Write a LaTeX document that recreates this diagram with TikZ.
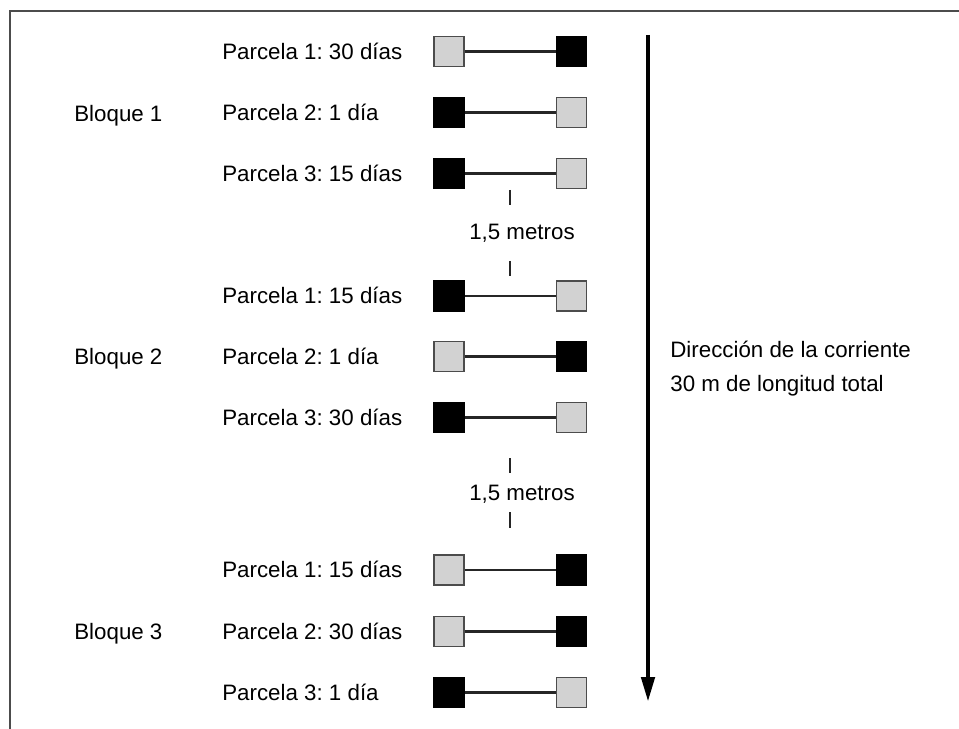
\documentclass[tikz,border=0pt]{standalone}
\usepackage{fontspec}
\setmainfont{Liberation Sans}
\usetikzlibrary{arrows.meta}
\frenchspacing

\tikzset{
  lbl/.style={anchor=west, inner sep=0pt, text height=9pt, text depth=0pt, font=\fontsize{12.7}{15}\selectfont},
  light/.style={draw=gray!60!black, fill=gray!35, line width=0.7pt, minimum size=0.6cm, inner sep=0pt},
  dark/.style={draw=black, fill=black, line width=0.7pt, minimum size=0.6cm, inner sep=0pt}
}

\begin{document}
\begin{tikzpicture}[x=0.02cm, y=-0.02cm]
   \useasboundingbox (0,0) rectangle (959,729);
   % frame
   \draw[gray!60!black, line width=1.2pt] (959,11) -- (10,11) -- (10,729);

   \begin{scope}[every node/.style={lbl}]
    \node (bq1) at (74,114) {Bloque 1};
    \node (bq2) at (74,356.5) {Bloque 2};
    \node (bq3) at (74,631.5) {Bloque 3};
    \node (b1p1) at (222,51.5) {Parcela 1: 30 días};
    \node (b1p2) at (222,112.5) {Parcela 2: 1 día};
    \node (b1p3) at (222,173.5) {Parcela 3: 15 días};
    \node (b2p1) at (222,296) {Parcela 1: 15 días};
    \node (b2p2) at (222,356.5) {Parcela 2: 1 día};
    \node (b2p3) at (222,417.5) {Parcela 3: 30 días};
    \node (b3p1) at (222,570) {Parcela 1: 15 días};
    \node (b3p2) at (222,631.5) {Parcela 2: 30 días};
    \node (b3p3) at (222,692.5) {Parcela 3: 1 día};
    \node (dir1) at (670,350) {Dirección de la corriente};
    \node (dir2) at (670,383.5) {30 m de longitud total};
    \node[anchor=center] (m1) at (522,232) {1,5 metros};
    \node[anchor=center] (m2) at (522,493) {1,5 metros};
   \end{scope}

   \node[light] (b1p1a) at (449,51.5) {};
   \node[dark]  (b1p1b) at (571.5,51.5) {};
   \node[dark]  (b1p2a) at (449,112.5) {};
   \node[light] (b1p2b) at (571.5,112.5) {};
   \node[dark]  (b1p3a) at (449,173.5) {};
   \node[light] (b1p3b) at (571.5,173.5) {};
   \node[dark]  (b2p1a) at (449,296) {};
   \node[light] (b2p1b) at (571.5,296) {};
   \node[light] (b2p2a) at (449,356.5) {};
   \node[dark]  (b2p2b) at (571.5,356.5) {};
   \node[dark]  (b2p3a) at (449,417.5) {};
   \node[light] (b2p3b) at (571.5,417.5) {};
   \node[light] (b3p1a) at (449,570) {};
   \node[dark]  (b3p1b) at (571.5,570) {};
   \node[light] (b3p2a) at (449,631.5) {};
   \node[dark]  (b3p2b) at (571.5,631.5) {};
   \node[dark]  (b3p3a) at (449,692.5) {};
   \node[light] (b3p3b) at (571.5,692.5) {};

   \begin{scope}[line width=1.3pt, black!85]
    \draw (b1p1a) -- (b1p1b);
    \draw (b1p2a) -- (b1p2b);
    \draw (b1p3a) -- (b1p3b);
    \draw (b2p1a) -- (b2p1b);
    \draw (b2p2a) -- (b2p2b);
    \draw (b2p3a) -- (b2p3b);
    \draw (b3p1a) -- (b3p1b);
    \draw (b3p2a) -- (b3p2b);
    \draw (b3p3a) -- (b3p3b);
   \end{scope}

   % ticks round the spacing labels
   \coordinate (t1a) at (510,190);
   \coordinate (t1b) at (510,205);
   \coordinate (t1c) at (510,261);
   \coordinate (t1d) at (510,276);
   \coordinate (t2a) at (510,458);
   \coordinate (t2b) at (510,473);
   \coordinate (t2c) at (510,512);
   \coordinate (t2d) at (510,528);
   \begin{scope}[line width=1.3pt, black!85]
    \draw (t1a) -- (t1b);
    \draw (t1c) -- (t1d);
    \draw (t2a) -- (t2b);
    \draw (t2c) -- (t2d);
   \end{scope}

   % flow direction
   \coordinate (ftop) at (648,35);
   \coordinate (fend) at (648,702);
   \draw[line width=2.6pt, -{Triangle[length=0.5cm, width=0.26cm]}] (ftop) -- (fend);
\end{tikzpicture}
\end{document}
